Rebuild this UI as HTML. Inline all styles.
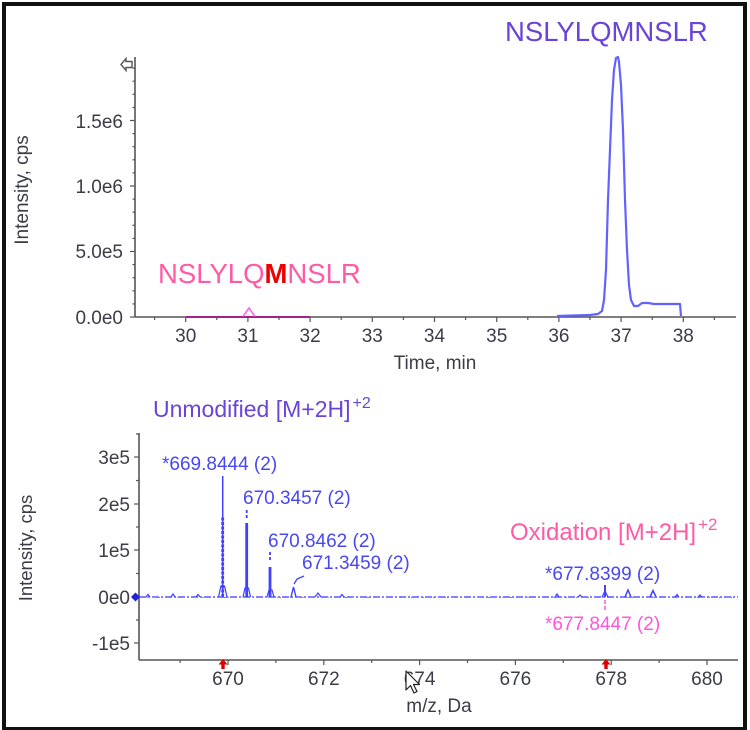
<!DOCTYPE html>
<html><head><meta charset="utf-8"><style>
html,body{margin:0;padding:0;background:#fff;}
body{width:750px;height:730px;overflow:hidden;position:relative;font-family:"Liberation Sans",Arial,sans-serif;}
.frame{position:absolute;left:2px;top:2px;width:745px;height:728px;box-sizing:border-box;border:4px solid #111;border-bottom-width:3px;}
svg{position:absolute;left:0;top:0;}
</style></head><body>
<div class="frame"></div>
<svg width="750" height="730" viewBox="0 0 750 730" xmlns="http://www.w3.org/2000/svg" font-family="Liberation Sans, Arial, sans-serif">
<!-- ============ TOP CHART ============ -->
<g stroke="#555" stroke-width="1.6" fill="none">
  <line x1="135" y1="57" x2="135" y2="317"/>
  <line x1="135" y1="317" x2="736" y2="317"/>
</g>
<g stroke="#555" stroke-width="1.2">
  <line x1="130" y1="317" x2="135" y2="317"/>
  <line x1="130" y1="251.5" x2="135" y2="251.5"/>
  <line x1="130" y1="186" x2="135" y2="186"/>
  <line x1="130" y1="120.5" x2="135" y2="120.5"/>
  <line x1="132.5" y1="303.9" x2="135" y2="303.9"/>
  <line x1="132.5" y1="290.8" x2="135" y2="290.8"/>
  <line x1="132.5" y1="277.7" x2="135" y2="277.7"/>
  <line x1="132.5" y1="264.6" x2="135" y2="264.6"/>
  <line x1="132.5" y1="238.4" x2="135" y2="238.4"/>
  <line x1="132.5" y1="225.3" x2="135" y2="225.3"/>
  <line x1="132.5" y1="212.2" x2="135" y2="212.2"/>
  <line x1="132.5" y1="199.1" x2="135" y2="199.1"/>
  <line x1="132.5" y1="172.9" x2="135" y2="172.9"/>
  <line x1="132.5" y1="159.8" x2="135" y2="159.8"/>
  <line x1="132.5" y1="146.7" x2="135" y2="146.7"/>
  <line x1="132.5" y1="133.6" x2="135" y2="133.6"/>
  <line x1="132.5" y1="107.4" x2="135" y2="107.4"/>
  <line x1="132.5" y1="94.3" x2="135" y2="94.3"/>
  <line x1="132.5" y1="81.2" x2="135" y2="81.2"/>
  <line x1="132.5" y1="68.1" x2="135" y2="68.1"/>
</g>
<g stroke="#555" stroke-width="1.2">
  <line x1="185.7" y1="317" x2="185.7" y2="322"/>
  <line x1="247.9" y1="317" x2="247.9" y2="322"/>
  <line x1="310.1" y1="317" x2="310.1" y2="322"/>
  <line x1="372.3" y1="317" x2="372.3" y2="322"/>
  <line x1="434.5" y1="317" x2="434.5" y2="322"/>
  <line x1="496.7" y1="317" x2="496.7" y2="322"/>
  <line x1="558.9" y1="317" x2="558.9" y2="322"/>
  <line x1="621.1" y1="317" x2="621.1" y2="322"/>
  <line x1="683.3" y1="317" x2="683.3" y2="322"/>
  <line x1="154.6" y1="317" x2="154.6" y2="320"/>
  <line x1="216.8" y1="317" x2="216.8" y2="320"/>
  <line x1="279" y1="317" x2="279" y2="320"/>
  <line x1="341.2" y1="317" x2="341.2" y2="320"/>
  <line x1="403.4" y1="317" x2="403.4" y2="320"/>
  <line x1="465.6" y1="317" x2="465.6" y2="320"/>
  <line x1="527.8" y1="317" x2="527.8" y2="320"/>
  <line x1="590" y1="317" x2="590" y2="320"/>
  <line x1="652.2" y1="317" x2="652.2" y2="320"/>
  <line x1="714.4" y1="317" x2="714.4" y2="320"/>
</g>
<polygon points="121,64.5 126,58.5 126,61.5 132,61.5 132,67.5 126,67.5 126,70.5" fill="#fff" stroke="#555" stroke-width="1.4"/>
<g font-size="19" fill="#3c3c48" text-anchor="end">
  <text x="123" y="128">1.5e6</text>
  <text x="123" y="193">1.0e6</text>
  <text x="123" y="258">5.0e5</text>
  <text x="123" y="324">0.0e0</text>
</g>
<g font-size="19" fill="#3c3c48" text-anchor="middle">
  <text x="185.7" y="342">30</text>
  <text x="247.9" y="342">31</text>
  <text x="310.1" y="342">32</text>
  <text x="372.3" y="342">33</text>
  <text x="434.5" y="342">34</text>
  <text x="496.7" y="342">35</text>
  <text x="558.9" y="342">36</text>
  <text x="621.1" y="342">37</text>
  <text x="683.3" y="342">38</text>
  <text x="435" y="369">Time, min</text>
</g>
<text transform="translate(28,190) rotate(-90)" font-size="19" fill="#3c3c48" text-anchor="middle">Intensity, cps</text>
<line x1="186" y1="317" x2="310" y2="317" stroke="#a0208c" stroke-width="2"/>
<polyline points="243,316.5 249,308 255,316.5" fill="none" stroke="#ff66e6" stroke-width="1.6"/>
<polyline fill="none" stroke="#6262ff" stroke-width="2.2" stroke-linejoin="round" points="557,316 590,315 598,314 602,311 604,300 606,270 608,200 610,150 612,100 614,70 616,58 618,57 619,62 621,85 623,130 625,200 627,250 629,285 631,300 634,306 638,306 642,303 648,303 654,304 660,304 666,304 672,304 680,304 681,316"/>
<text x="505" y="41" font-size="27.5" fill="#6a44d8">NSLYLQMNSLR</text>
<text x="158" y="283" font-size="27.5" fill="#ff5aa5">NSLYLQ<tspan fill="#ee0000" font-weight="bold">M</tspan>NSLR</text>

<!-- ============ BOTTOM CHART ============ -->
<g stroke="#555" stroke-width="1.6" fill="none">
  <line x1="139" y1="433" x2="139" y2="660"/>
  <line x1="139" y1="660" x2="738" y2="660"/>
</g>
<g stroke="#555" stroke-width="1.2">
  <line x1="134" y1="457" x2="139" y2="457"/>
  <line x1="134" y1="504" x2="139" y2="504"/>
  <line x1="134" y1="550" x2="139" y2="550"/>
  <line x1="134" y1="597" x2="139" y2="597"/>
  <line x1="134" y1="643" x2="139" y2="643"/>
  <line x1="136" y1="434" x2="139" y2="434"/>
  <line x1="136" y1="480.5" x2="139" y2="480.5"/>
  <line x1="136" y1="527" x2="139" y2="527"/>
  <line x1="136" y1="573.5" x2="139" y2="573.5"/>
  <line x1="136" y1="620" x2="139" y2="620"/>
  <line x1="228" y1="660" x2="228" y2="665"/>
  <line x1="323.8" y1="660" x2="323.8" y2="665"/>
  <line x1="419.6" y1="660" x2="419.6" y2="665"/>
  <line x1="515.4" y1="660" x2="515.4" y2="665"/>
  <line x1="611.2" y1="660" x2="611.2" y2="665"/>
  <line x1="707" y1="660" x2="707" y2="665"/>
  <line x1="180.1" y1="660" x2="180.1" y2="663"/>
  <line x1="275.9" y1="660" x2="275.9" y2="663"/>
  <line x1="371.7" y1="660" x2="371.7" y2="663"/>
  <line x1="467.5" y1="660" x2="467.5" y2="663"/>
  <line x1="563.3" y1="660" x2="563.3" y2="663"/>
  <line x1="659.1" y1="660" x2="659.1" y2="663"/>
</g>
<g font-size="19" fill="#3c3c48" text-anchor="end">
  <text x="130" y="464">3e5</text>
  <text x="130" y="511">2e5</text>
  <text x="130" y="557">1e5</text>
  <text x="130" y="604">0e0</text>
  <text x="130" y="650">-1e5</text>
</g>
<g font-size="19" fill="#3c3c48" text-anchor="middle">
  <text x="228" y="685">670</text>
  <text x="323.8" y="685">672</text>
  <text x="419.6" y="685">674</text>
  <text x="515.4" y="685">676</text>
  <text x="611.2" y="685">678</text>
  <text x="707" y="685">680</text>
  <text x="439" y="712">m/z, Da</text>
</g>
<text transform="translate(32,548) rotate(-90)" font-size="18.5" fill="#3c3c48" text-anchor="middle">Intensity, cps</text>

<line x1="139" y1="597" x2="738" y2="597" stroke="#5a5aff" stroke-width="1.6" stroke-dasharray="7,2,2,2"/>
<line x1="139" y1="597.5" x2="738" y2="597.5" stroke="#888" stroke-width="1" stroke-dasharray="2,9" stroke-dashoffset="3"/>
<line x1="139" y1="597.5" x2="738" y2="597.5" stroke="#ff66dd" stroke-width="1" stroke-dasharray="2,23" stroke-dashoffset="12"/>

<g stroke="#4040ff" fill="none">
  <line x1="222.7" y1="597" x2="222.7" y2="476" stroke-width="1.5"/>
  <line x1="222.7" y1="597" x2="222.7" y2="517" stroke-width="2.8" stroke-dasharray="3,1.5"/>
  <polyline points="218.5,597 221,586 224.5,586 227,597" stroke-width="1.2"/>
  <line x1="246.7" y1="518" x2="246.7" y2="509" stroke-width="1.8" stroke-dasharray="3,2"/>
  <line x1="246.7" y1="597" x2="246.7" y2="523" stroke-width="2.8"/>
  <polyline points="243,597 245,588 248.5,588 250.5,597" stroke-width="1.2"/>
  <line x1="270" y1="560" x2="270" y2="552" stroke-width="1.8" stroke-dasharray="3,2"/>
  <line x1="270" y1="597" x2="270" y2="567" stroke-width="2.8"/>
  <polyline points="267,597 269,590 272,590 274,597" stroke-width="1.2"/>
  <polyline points="291,597 293.5,587 296,597" stroke-width="1.4"/>
  <polyline points="294,584 297,579 304,576" stroke-width="1.3"/>
  <polyline points="146,597 148,594.5 150,597" stroke-width="1.2"/>
  <polyline points="171,597 173,594 175,597" stroke-width="1.2"/>
  <polyline points="196,597 198,594.5 200,597" stroke-width="1.2"/>
  <polyline points="315,597 318,593 321,597" stroke-width="1.2"/>
  <polyline points="340,597 342,594.5 344,597" stroke-width="1.2"/>
  <polyline points="555,597 557,594 559,597" stroke-width="1.2"/>
  <polyline points="578,597 580,595 582,597" stroke-width="1.2"/>
  <line x1="605" y1="597" x2="605" y2="585" stroke-width="2"/>
  <polyline points="602,597 605,591 608,597" stroke-width="1.2"/>
  <polyline points="625,597 628,590 631,597" stroke-width="1.5"/>
  <polyline points="650,597 653,590.5 656,597" stroke-width="1.5"/>
  <polyline points="675,597 677,594.5 679,597" stroke-width="1.2"/>
  <polyline points="698,597 700,595 702,597" stroke-width="1.2"/>
</g>
<line x1="605" y1="600" x2="605" y2="611" stroke="#ff55dd" stroke-width="1.5" stroke-dasharray="4,2"/>

<polygon points="131,597 135.5,592.5 140,597 135.5,601.5" fill="#2222dd"/>
<polygon points="223,659 218.5,664.5 221.3,664.5 221.3,669 224.7,669 224.7,664.5 227.5,664.5" fill="#dd0000"/>
<polygon points="606,659 601.5,664.5 604.3,664.5 604.3,669 607.7,669 607.7,664.5 610.5,664.5" fill="#dd0000"/>

<text x="153" y="417" font-size="23" fill="#6a44d8">Unmodified [M+2H]<tspan font-size="16" dx="2" dy="-9">+2</tspan></text>
<text x="510" y="540" font-size="24" fill="#ff5aa5">Oxidation [M+2H]<tspan font-size="17" dx="2" dy="-10">+2</tspan></text>
<g font-size="19" fill="#4848f0">
  <text x="162" y="470">*669.8444 (2)</text>
  <text x="243" y="504">670.3457 (2)</text>
  <text x="268" y="547">670.8462 (2)</text>
  <text x="302" y="569">671.3459 (2)</text>
  <text x="545" y="580">*677.8399 (2)</text>
</g>
<text x="545" y="630" font-size="19" fill="#ff55dd">*677.8447 (2)</text>

<polygon points="406,671 406,690 410.5,685.5 414,693 417,691.5 413.5,684.5 419.5,684.5" fill="#fff" stroke="#222" stroke-width="1.2" stroke-linejoin="round"/>
</svg>
</body></html>
